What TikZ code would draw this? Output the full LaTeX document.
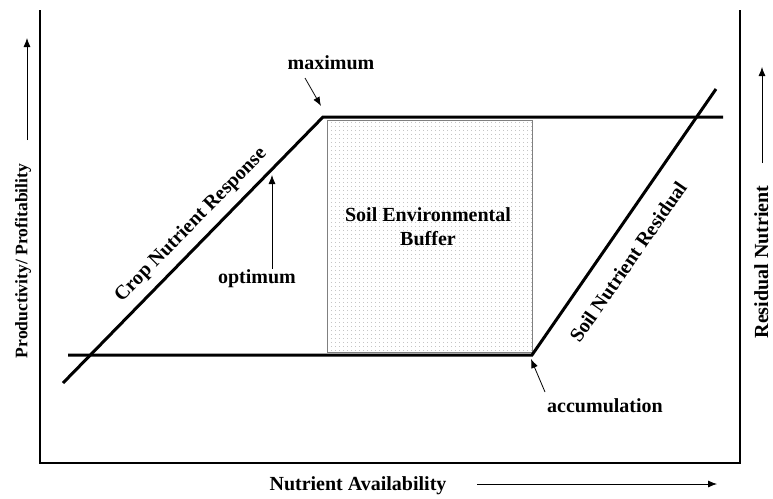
\documentclass[tikz,border=0pt]{standalone}
\usepackage{fontspec}
\setmainfont{Liberation Serif}
\tikzset{
    axis/.style={line width=2pt},
    curve/.style={line width=3pt},
    lbl/.style={font=\fontsize{20}{24}\selectfont\bfseries, inner sep=1pt},
    pointer/.style={-{Latex[length=9pt, width=7pt]}, line width=0.8pt},
    buffer/.style={draw=gray, line width=0.8pt, pattern={Dots[distance=4pt, radius=0.45pt]}, pattern color=gray!80} }
\usetikzlibrary{patterns.meta, arrows.meta}

\begin{document}
\begin{tikzpicture}[x=1pt, y=-1pt]
			\useasboundingbox (0,0) rectangle (773,498);
			\coordinate (TOPL) at (40,10);
			\coordinate (ORIGIN) at (40,463);
			\coordinate (BOTR) at (740,463);
			\coordinate (TOPR) at (740,10);
			\coordinate (CROPLO) at (63,383);
			\coordinate (MAX) at (323,117);
			\coordinate (TOPEND) at (723,117);
			\coordinate (LOWSTART) at (68,355);
			\coordinate (ACC) at (532,355);
			\coordinate (RESTOP) at (716,89);
			% ----
			\node[buffer, minimum width=205pt, minimum height=232pt, inner sep=0pt] (BUFFER) at (429.5,236) {};
			\node[lbl, align=center] (BUFFERTXT) at (428,227) {Soil Environmental\\Buffer};
			% ----
			\draw[axis] (TOPL) -- (ORIGIN) -- (BOTR) -- (TOPR);
			\draw[curve] (CROPLO) -- (MAX) -- (TOPEND);
			\draw[curve] (LOWSTART) -- (ACC) -- (RESTOP);
			\node[lbl, rotate=45.6] (CROPTXT) at (191,225) {Crop Nutrient Response};
			\node[lbl, rotate=55.3] (RESTXT) at (628,262) {Soil Nutrient Residual};
			% ----
			\node[lbl] (MAXTXT) at (331,63) {maximum};
			\node[lbl] (OPTTXT) at (257,279) {optimum};
			\node[lbl] (ACCTXT) at (605,406) {accumulation};
			\coordinate (MAXTAIL) at (305,78);
			\coordinate (MAXTIP) at (321,106);
			\coordinate (OPTTIP) at (272,175);
			\coordinate (ACCTAIL) at (545,392);
			\coordinate (ACCTIP) at (531,359);
			\draw[pointer] (MAXTAIL) -- (MAXTIP);
			\draw[pointer] (OPTTXT.north -| OPTTIP) -- (OPTTIP);
			\draw[pointer] (ACCTAIL) -- (ACCTIP);
			% ----
			\node[lbl, font=\fontsize{17.6}{21}\selectfont\bfseries, rotate=90] (YTXT) at (23,261) {Productivity/ Profitability};
			\node[lbl, rotate=90, anchor=base] (RTXT) at (768,262) {Residual Nutrient};
			\node[lbl] (XTXT) at (358,486) {Nutrient Availability};
			\coordinate (YTAIL) at (27,140);
			\coordinate (YTIP) at (27,38);
			\coordinate (RTAIL) at (762,163);
			\coordinate (RTIP) at (762,67);
			\coordinate (XTAIL) at (477,484);
			\coordinate (XTIP) at (717,484);
			\draw[pointer] (YTAIL) -- (YTIP);
			\draw[pointer] (RTAIL) -- (RTIP);
			\draw[pointer] (XTAIL) -- (XTIP);
		\end{tikzpicture}
\end{document}
